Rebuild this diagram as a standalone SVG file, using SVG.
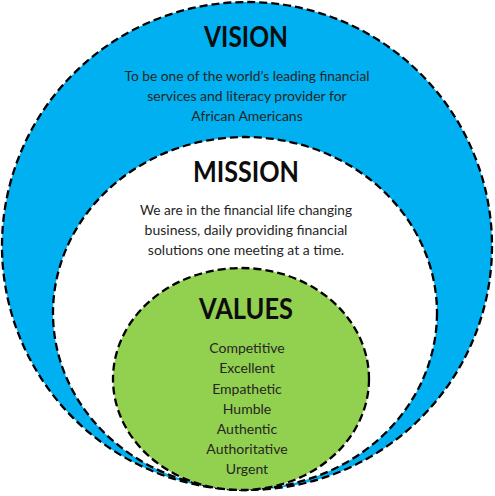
<svg xmlns="http://www.w3.org/2000/svg" width="495" height="496" viewBox="0 0 495 496">
  <style>
    .ring { stroke: #000; stroke-width: 2.3; stroke-dasharray: 8 4; }
    .title { font-family: Lato, "Open Sans", "Liberation Sans", sans-serif; font-weight: bold; font-size: 29px; fill: #0d0d0d; text-anchor: middle; }
    .body { font-family: Lato, "Open Sans", "Liberation Sans", sans-serif; font-size: 14px; fill: #262626; text-anchor: middle; }
  </style>
  <rect width="495" height="496" fill="#ffffff"/>
  <g id="vision">
    <ellipse class="ring" cx="247" cy="246" rx="245" ry="244" fill="#00B0F0"/>
    <text class="title" x="246" y="47" textLength="84" lengthAdjust="spacingAndGlyphs">VISION</text>
    <text class="body" x="247" y="81" textLength="245" lengthAdjust="spacingAndGlyphs">To be one of the world’s leading financial</text>
    <text class="body" x="247" y="101">services and literacy provider for</text>
    <text class="body" x="247" y="121">African Americans</text>
  </g>
  <g id="mission">
    <ellipse class="ring" cx="245" cy="313" rx="192" ry="176" fill="#ffffff"/>
    <text class="title" x="246" y="182" textLength="106" lengthAdjust="spacingAndGlyphs">MISSION</text>
    <text class="body" x="246" y="215" textLength="212" lengthAdjust="spacingAndGlyphs">We are in the financial life changing</text>
    <text class="body" x="246" y="235">business, daily providing financial</text>
    <text class="body" x="246" y="255">solutions one meeting at a time.</text>
  </g>
  <g id="values">
    <ellipse class="ring" cx="241" cy="379" rx="128" ry="111" fill="#92D050"/>
    <text class="title" x="246" y="319" textLength="94" lengthAdjust="spacingAndGlyphs">VALUES</text>
    <text class="body" x="247" y="353">Competitive</text>
    <text class="body" x="247" y="373">Excellent</text>
    <text class="body" x="247" y="393.5">Empathetic</text>
    <text class="body" x="247" y="413.5">Humble</text>
    <text class="body" x="247" y="434">Authentic</text>
    <text class="body" x="247" y="454">Authoritative</text>
    <text class="body" x="247" y="474">Urgent</text>
  </g>
  <g id="connectors"></g>
</svg>
